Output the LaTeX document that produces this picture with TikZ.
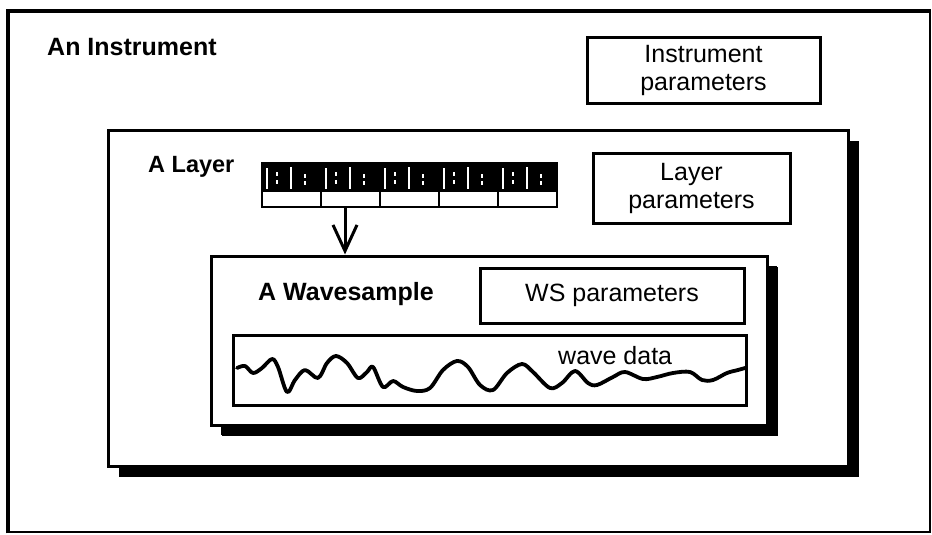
\documentclass[tikz,border=0pt]{standalone}
\usepackage{fontspec}
\setmainfont{Liberation Sans}
\usetikzlibrary{arrows.meta,shadows}
\begin{document}
\begin{tikzpicture}[x=1pt,y=-1pt,
  box/.style={draw=black,line width=3pt,fill=white,inner sep=0pt,rectangle},
  shadowbox/.style={box,drop shadow={shadow xshift=11pt,shadow yshift=-11pt,fill=black,opacity=1}},
  title/.style={font=\fontsize{23.5}{25}\selectfont\bfseries,anchor=west,inner sep=0pt},
  label/.style={font=\fontsize{25}{28}\selectfont,align=center,inner sep=0pt},
  wave/.style={line width=3.8pt,line join=round,line cap=round},
  keyline/.style={white,line width=1.4pt},
  arr/.style={line width=3pt,-{Straight Barb[length=26pt,width=24pt,line width=3pt]}}]
\useasboundingbox (0,0) rectangle (932,535);
\fill[white] (0,0) rectangle (932,535);
% outer frame
\node[box,minimum width=921pt,minimum height=520pt,fill=none,line width=2.5pt] (frame) at (469.5,272) {};
\draw[line width=4pt] (frame.south west) -- (frame.north west) -- (frame.north east);
\node[title,font=\fontsize{25}{27}\selectfont\bfseries] (tinst) at (47,47) {An Instrument};
\node[box,minimum width=233pt,minimum height=65pt] (instp) at (703.5,70.5) {};
\node[label] (instpt) at (instp.center) {Instrument\\parameters};
% layer
\node[shadowbox,minimum width=740pt,minimum height=336pt] (layer) at (478,298) {};
\node[title] (tlayer) at (148,167) {A Layer};
\node[box,minimum width=197pt,minimum height=70pt] (layp) at (691.5,188) {};
\node[label] (laypt) at (layp.center) {Layer\\parameters};
% key strip
\node[box,minimum width=295pt,minimum height=44pt,line width=2.5pt] (strip) at (409.5,185) {};
\fill[black] (262,163) rectangle (557,192);
\foreach \i in {0,...,4}{
  \pgfmathsetmacro{\xa}{262+59*\i}
  \draw[keyline] (\xa+5,168) -- (\xa+5,189);
  \draw[keyline] (\xa+15,172) -- (\xa+15,176) (\xa+15,180) -- (\xa+15,184);
  \draw[keyline] (\xa+29,167) -- (\xa+29,189);
  \draw[keyline] (\xa+43,174) -- (\xa+43,178) (\xa+43,181) -- (\xa+43,185);
  \ifnum\i>0 \draw[black,line width=2.5pt] (\xa,190) -- (\xa,207);\fi
}
\coordinate (ax) at (345,0);
% wavesample
\node[shadowbox,minimum width=556pt,minimum height=169pt,drop shadow={shadow xshift=10pt,shadow yshift=-10pt,fill=black,opacity=1}] (ws) at (489,340.5) {};
\draw[arr] (strip.south -| ax) -- (ws.north -| ax);
\node[title,font=\fontsize{25}{27}\selectfont\bfseries] (tws) at (258,294) {A Wavesample};
\node[box,minimum width=264pt,minimum height=55pt] (wsp) at (612,295.5) {};
\node[label] (wspt) at (wsp.center) {WS parameters};
\node[box,minimum width=513pt,minimum height=70pt] (wd) at (489.5,370) {};
\node[label,anchor=west] (wdt) at (558,356) {wave data};
\draw[wave] plot[smooth,tension=0.55] coordinates {
 (237,368) (245,366) (253,373) (262,368) (272,359) (278,367) (287,392) (295,380)
 (305,370) (318,378) (327,363) (336,356) (347,363) (358,378) (367,372) (373,367)
 (383,387) (393,381) (403,387) (417,391) (430,388) (443,370) (457,361) (468,367)
 (480,385) (493,390) (507,373) (522,364) (533,372) (550,388) (562,383) (575,371)
 (588,383) (597,385) (613,377) (625,372) (643,379) (657,377) (673,373) (690,372)
 (702,380) (713,380) (727,373) (738,370) (745,368)};
\end{tikzpicture}
\end{document}
